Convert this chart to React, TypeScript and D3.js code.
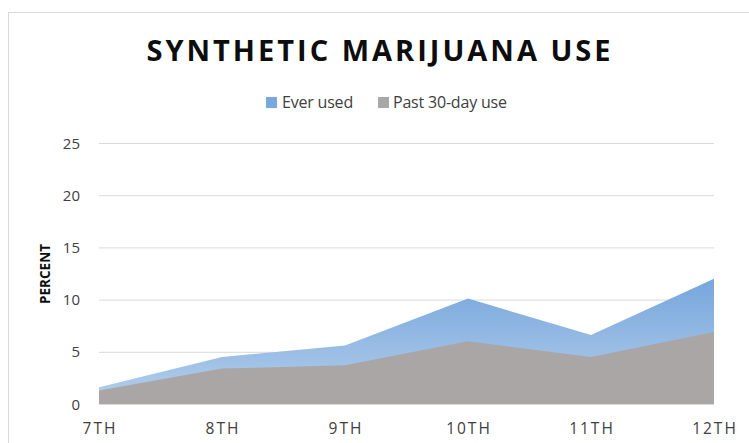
import React from "react";
import * as d3 from "d3";

const grades = ["7TH", "8TH", "9TH", "10TH", "11TH", "12TH"];
const everUsed = [1.6, 4.5, 5.6, 10.1, 6.6, 12.0];
const past30 = [1.3, 3.4, 3.7, 6.0, 4.5, 6.9];
const yTicks = [0, 5, 10, 15, 20, 25];
const seriesNames = ["Ever used", "Past 30-day use"];

const W = 749;
const H = 443;

export default function App() {
  const x = d3.scalePoint<string>().domain(grades).range([99, 714]);
  const y = d3.scaleLinear().domain([0, 25]).range([404, 143]);

  const area = d3
    .area<number>()
    .x((_, i) => x(grades[i]) as number)
    .y0(y(0))
    .y1((d) => y(d));

  const font = "'Open Sans', sans-serif";

  return (
    <svg
      width={W}
      height={H}
      style={{ position: "absolute", left: 0, top: 0, background: "#fff" }}
      fontFamily={font}
    >
      <defs>
        <linearGradient id="blueGrad" x1="0" y1="0" x2="0" y2="1">
          <stop offset="0%" stopColor="#76a6dc" />
          <stop offset="100%" stopColor="#b5cfec" />
        </linearGradient>
      </defs>
      <rect x={8.5} y={12.5} width={800} height={500} fill="#fff" stroke="#d9d9d9" />

      <text
        x={380}
        y={61}
        textAnchor="middle"
        fontSize={29}
        fontWeight="bold"
        letterSpacing={3}
        fill="#0d0d0d"
      >
        SYNTHETIC MARIJUANA USE
      </text>

      {/* legend */}
      <rect x={266} y={97} width={11} height={11} fill="#79a8dd" />
      <text x={282} y={108} fontSize={16} fill="#404040" letterSpacing={-0.2}>
        {seriesNames[0]}
      </text>
      <rect x={378} y={97} width={11} height={11} fill="#a8a8a8" />
      <text x={393} y={108} fontSize={16} fill="#404040" letterSpacing={-0.2}>
        {seriesNames[1]}
      </text>

      {/* gridlines */}
      {yTicks.map((t) => (
        <line
          key={t}
          x1={99}
          x2={714}
          y1={y(t) + 0.5}
          y2={y(t) + 0.5}
          stroke="#d9d9d9"
          strokeWidth={1}
        />
      ))}

      <path d={area(everUsed) || ""} fill="url(#blueGrad)" />
      <path d={area(past30) || ""} fill="#aaa6a5" />

      {/* y ticks */}
      {yTicks.map((t) => (
        <text
          key={t}
          x={80}
          y={y(t) + 5.5}
          textAnchor="end"
          fontSize={15}
          fill="#404040"
        >
          {t}
        </text>
      ))}

      {/* x labels */}
      {grades.map((g) => (
        <text
          key={g}
          x={(x(g) as number) + 1}
          y={434}
          textAnchor="middle"
          fontSize={15.5}
          letterSpacing={2}
          fill="#404040"
        >
          {g}
        </text>
      ))}

      <text
        transform={`translate(50,274) rotate(-90)`}
        textAnchor="middle"
        fontSize={13.5}
        fontWeight="bold"
        fill="#0d0d0d"
      >
        PERCENT
      </text>
    </svg>
  );
}
